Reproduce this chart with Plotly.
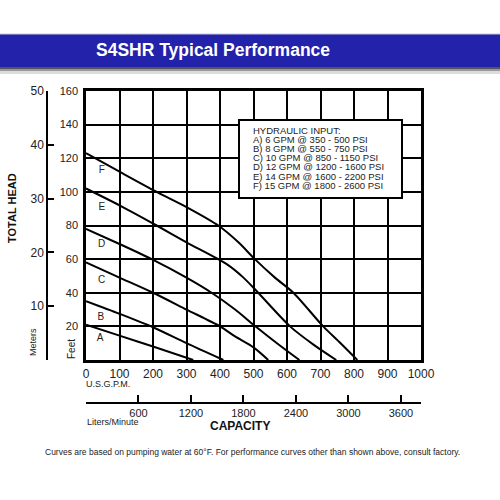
import plotly.graph_objects as go

# ---- data (US GPM vs Total Head in feet) ----
curve_names = ["A", "B", "C", "D", "E", "F"]
gpm_A = [0, 100, 200, 320]
head_A = [21, 14.5, 8, 0]
gpm_B = [0, 100, 200, 300, 410]
head_B = [35, 27.5, 19.5, 10, 0]
gpm_C = [0, 100, 200, 300, 400, 445, 500, 544]
head_C = [58, 49, 40, 30, 20, 14, 7.5, 0]
gpm_D = [0, 100, 196, 300, 375, 445, 500, 570, 637]
head_D = [78, 69, 60, 49, 40, 30, 21, 10, 0]
gpm_E = [0, 100, 211, 300, 420, 470, 514, 609, 680, 747]
head_E = [102, 92, 80, 70, 57, 49, 40, 20, 9, 0]
gpm_F = [0, 100, 211, 300, 395, 455, 504, 564, 619, 708, 760, 810]
head_F = [123, 112, 100, 91, 80, 70, 60, 49, 40, 20, 10, 0]

label_gpm = [42, 44, 47, 47, 47, 47]
label_head = [12.5, 25.5, 47.5, 68.5, 91, 113]

gpm_ticks = [0, 100, 200, 300, 400, 500, 600, 700, 800, 900, 1000]
feet_ticks = [20, 40, 60, 80, 100, 120, 140, 160]
meter_ticks = [0, 10, 20, 30, 40, 50]
meter_text = ["", "10", "20", "30", "40", "50"]
liter_ticks = [0, 600, 1200, 1800, 2400, 3000, 3600]
liter_text = ["", "600", "1200", "1800", "2400", "3000", "3600"]

legend_title = "HYDRAULIC INPUT:"
legend_lines = [
    "A) 6 GPM @ 350 - 500 PSI",
    "B) 8 GPM @ 550 - 750 PSI",
    "C) 10 GPM @ 850 - 1150 PSI",
    "D) 12 GPM @ 1200 - 1600 PSI",
    "E) 14 GPM @ 1600 - 2200 PSI",
    "F) 15 GPM @ 1800 - 2600 PSI",
]

title_text = "S4SHR Typical Performance"
footnote = "Curves are based on pumping water at 60°F. For performance curves other than shown above, consult factory."

FONT = "Liberation Sans, Arial, sans-serif"
W = H = 500


def px(x):
    return x / W


def py(y):
    return 1 - y / H


fig = go.Figure()
curves = [(gpm_A, head_A), (gpm_B, head_B), (gpm_C, head_C),
          (gpm_D, head_D), (gpm_E, head_E), (gpm_F, head_F)]
for name, (gx, hy) in zip(curve_names, curves):
    fig.add_trace(go.Scatter(x=gx, y=hy, mode="lines", name=name,
                             line=dict(color="black", width=2, shape="spline", smoothing=0.8),
                             showlegend=False, hoverinfo="skip"))
fig.add_trace(go.Scatter(x=label_gpm, y=label_head, mode="text", text=curve_names,
                         textfont=dict(family=FONT, size=10, color="#222"),
                         showlegend=False, hoverinfo="skip"))
# dummy traces to attach secondary axes
fig.add_trace(go.Scatter(x=[0], y=[0], xaxis="x2", yaxis="y", mode="markers",
                         marker=dict(opacity=0), showlegend=False, hoverinfo="skip"))
fig.add_trace(go.Scatter(x=[0], y=[0], xaxis="x", yaxis="y2", mode="markers",
                         marker=dict(opacity=0), showlegend=False, hoverinfo="skip"))

xd = [px(86), px(421)]
yd = [py(360), py(91)]

fig.update_layout(
    width=W, height=H, margin=dict(l=0, r=0, t=0, b=0, pad=0, autoexpand=False),
    paper_bgcolor="white", plot_bgcolor="white",
    font=dict(family=FONT, color="#222"),
    xaxis=dict(domain=xd, range=[0, 1000], tickvals=gpm_ticks, showgrid=True,
               gridcolor="black", gridwidth=1.5, zeroline=False, showline=True,
               linecolor="black", linewidth=2.5, mirror=True, ticks="",
               tickfont=dict(size=12, color="#222"), ticklabelstandoff=1, automargin=False),
    yaxis=dict(domain=yd, range=[0, 160], tickvals=feet_ticks, showgrid=True,
               gridcolor="black", gridwidth=1.5, zeroline=False, showline=True,
               linecolor="black", linewidth=2.5, mirror=True, ticks="",
               tickfont=dict(size=11, color="#222"), ticklabelstandoff=3, automargin=False),
    xaxis2=dict(overlaying="x", anchor="free", position=py(403), range=[0, 3829],
                tickvals=liter_ticks, ticktext=liter_text, ticks="inside", ticklen=7,
                tickwidth=1.5, tickcolor="black", showline=True, linecolor="black",
                linewidth=1.5, showgrid=False, zeroline=False, side="bottom",
                tickfont=dict(size=11, color="#222"), automargin=False),
    yaxis2=dict(overlaying="y", anchor="free", position=px(47), range=[0, 50],
                tickvals=meter_ticks, ticktext=meter_text, ticks="inside", ticklen=6,
                tickwidth=1.5, tickcolor="black", showline=True, linecolor="black",
                linewidth=1.5, showgrid=False, zeroline=False, side="left",
                tickfont=dict(size=12, color="#222"), automargin=False),
)

shapes = [
    dict(type="rect", xref="paper", yref="paper", x0=0, x1=1, y0=py(67), y1=py(34),
         fillcolor="#2222aa", line=dict(width=0), layer="above"),
    dict(type="line", xref="paper", yref="paper", x0=0, x1=1, y0=py(34), y1=py(34),
         line=dict(color="#c8c8d8", width=1)),
    dict(type="rect", xref="paper", yref="paper", x0=0, x1=1, y0=py(69), y1=py(67),
         fillcolor="#555", line=dict(width=0)),
    dict(type="rect", xref="paper", yref="paper", x0=0, x1=1, y0=py(71), y1=py(69),
         fillcolor="#999", line=dict(width=0)),
    dict(type="rect", xref="paper", yref="paper", x0=0, x1=1, y0=py(74), y1=py(71),
         fillcolor="#dcdcdc", line=dict(width=0)),
    dict(type="rect", xref="paper", yref="paper", x0=px(239), x1=px(402), y0=py(198), y1=py(120),
         fillcolor="white", line=dict(color="black", width=2), layer="above"),
]
fig.update_layout(shapes=shapes)

ann = []
ann.append(dict(text="<b>" + title_text + "</b>", x=px(213), y=py(50), xref="paper", yref="paper",
                showarrow=False, font=dict(size=17.5, color="white", family=FONT),
                xanchor="center", yanchor="middle"))
ann.append(dict(text="<b>" + "TOTAL HEAD" + "</b>", x=px(12), y=py(208), xref="paper",
                yref="paper", showarrow=False, textangle=-90,
                font=dict(size=11, color="#111"), xanchor="center", yanchor="middle"))
ann.append(dict(text="Meters", x=px(33), y=py(342), xref="paper", yref="paper",
                showarrow=False, textangle=-90, font=dict(size=9, color="#222"),
                xanchor="center", yanchor="middle"))
ann.append(dict(text="Feet", x=px(71), y=py(349), xref="paper", yref="paper",
                showarrow=False, textangle=-90, font=dict(size=10, color="#222"),
                xanchor="center", yanchor="middle"))
ann.append(dict(text="U.S.G.P.M.", x=px(84), y=py(384), xref="paper", yref="paper",
                showarrow=False, font=dict(size=9, color="#222"),
                xanchor="left", yanchor="middle"))
ann.append(dict(text="Liters/Minute", x=px(85), y=py(422), xref="paper", yref="paper",
                showarrow=False, font=dict(size=9, color="#222"),
                xanchor="left", yanchor="middle"))
ann.append(dict(text="<b>CAPACITY</b>", x=px(240), y=py(426), xref="paper", yref="paper",
                showarrow=False, font=dict(size=12, color="#111"),
                xanchor="center", yanchor="middle"))
ann.append(dict(text=footnote, x=px(252), y=py(452), xref="paper", yref="paper",
                showarrow=False, font=dict(size=8.5, color="#222"),
                xanchor="center", yanchor="middle"))
leg_y = [130, 139.3, 148.5, 157.5, 166.8, 176, 185.5]
for t, yy in zip([legend_title] + legend_lines, leg_y):
    ann.append(dict(text=t, x=px(251), y=py(yy), xref="paper", yref="paper",
                    showarrow=False, font=dict(size=9.5, color="#222"),
                    xanchor="left", yanchor="middle"))
fig.update_layout(annotations=ann)

fig.write_html("out.html",
               post_script="document.body.style.margin='0';document.body.style.overflow='hidden';")
